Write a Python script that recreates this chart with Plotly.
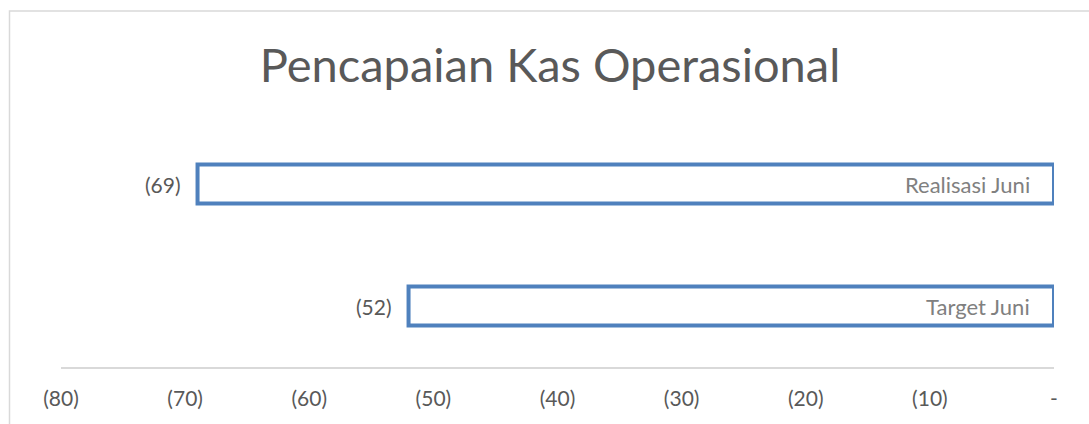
import plotly.graph_objects as go

categories = ["Target Juni", "Realisasi Juni"]
values = [-52, -69]
tick_vals = [-80, -70, -60, -50, -40, -30, -20, -10, 0]
tick_text = ["(80)", "(70)", "(60)", "(50)", "(40)", "(30)", "(20)", "(10)", "-"]
title_text = "Pencapaian Kas Operasional"

def fmt(v):
    return f"({abs(v)})" if v < 0 else str(v)

W, H = 1089, 424
ml, mr, mt, mb = 61, 35, 123, 57

fig = go.Figure()
fig.add_trace(go.Bar(
    y=categories, x=values, orientation="h",
    marker=dict(color="white", line=dict(color="#4f81bd", width=4)),
    width=0.32, hoverinfo="skip", showlegend=False,
))

annotations = []
for c, v in zip(categories, values):
    annotations.append(dict(x=v, y=c, xref="x", yref="y", text=fmt(v),
                            showarrow=False, xanchor="right", xshift=-15,
                            font=dict(family="Lato", size=21, color="#595959")))
    annotations.append(dict(x=0, y=c, xref="x", yref="y", text=c,
                            showarrow=False, xanchor="right", xshift=-22,
                            font=dict(family="Lato", size=22, color="#808080")))

pw = W - ml - mr
ph = H - mt - mb
bx0 = (9.5 - ml) / pw
by1 = (H - mb - 11) / ph

fig.update_layout(
    width=W, height=H,
    margin=dict(l=ml, r=mr, t=mt, b=mb),
    paper_bgcolor="white", plot_bgcolor="white",
    title=dict(text=title_text, x=550 / W, xref="container", xanchor="center",
               y=1 - 66 / H, yref="container", yanchor="middle",
               font=dict(family="Lato", size=47, color="#595959")),
    xaxis=dict(range=[-80, 0], tickvals=tick_vals, ticktext=tick_text,
               showgrid=False, zeroline=False, showline=True,
               linecolor="#d9d9d9", linewidth=1.5, ticks="",
               ticklabelstandoff=12,
               tickfont=dict(family="Lato", size=21, color="#595959"),
               fixedrange=True),
    yaxis=dict(showticklabels=False, showgrid=False, zeroline=False,
               showline=False, range=[-0.5, 1.5], fixedrange=True),
    annotations=annotations,
    shapes=[dict(type="rect", xref="paper", yref="paper",
                 x0=bx0, x1=1.2, y0=-0.5, y1=by1,
                 line=dict(color="#d9d9d9", width=1.5), fillcolor="rgba(0,0,0,0)",
                 layer="below")],
)

fig.write_html("out.html", config={"displayModeBar": False},
               post_script="document.body.style.margin='0';document.body.style.overflow='hidden';")
